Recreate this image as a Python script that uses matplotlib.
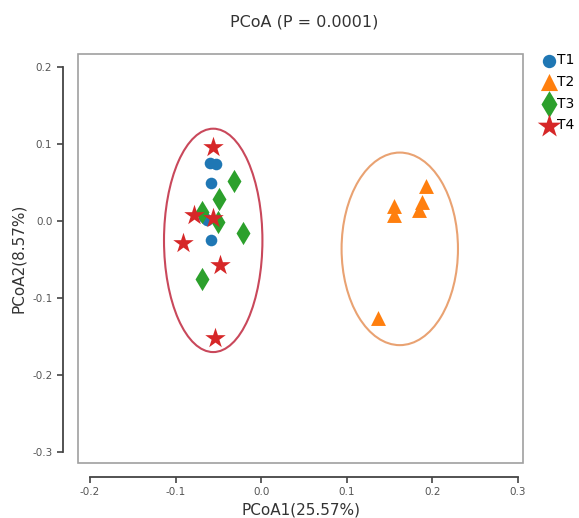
import matplotlib.pyplot as plt
from matplotlib.patches import Ellipse, Rectangle

# PCoA coordinates
t1_x = [-0.060, -0.053, -0.058, -0.067, -0.063, -0.058]
t1_y = [0.076, 0.074, 0.050, 0.006, 0.001, -0.025]
t2_x = [0.193, 0.155, 0.155, 0.188, 0.185, 0.136]
t2_y = [0.045, 0.019, 0.008, 0.025, 0.015, -0.126]
t3_x = [-0.032, -0.049, -0.069, -0.050, -0.021, -0.069]
t3_y = [0.052, 0.029, 0.012, -0.001, -0.015, -0.075]
t4_x = [-0.056, -0.079, -0.056, -0.091, -0.048, -0.054]
t4_y = [0.096, 0.008, 0.004, -0.028, -0.057, -0.152]

groups = ["T1", "T2", "T3", "T4"]
colors = ["#1f77b4", "#ff7f0e", "#2ca02c", "#d62728"]
markers = ["o", "^", "d", "*"]
sizes = [70, 115, 140, 240]

# confidence ellipses: centre x, centre y, width, height
ell_t4 = (-0.056, -0.025, 0.115, 0.290)
ell_t2 = (0.162, -0.036, 0.136, 0.250)

xticks = [-0.2, -0.1, 0.0, 0.1, 0.2, 0.3]
yticks = [-0.3, -0.2, -0.1, 0.0, 0.1, 0.2]

fig = plt.figure(figsize=(5.79, 5.18), dpi=100)
ax = fig.add_axes([0.1347, 0.1062, 0.7686, 0.7896])

ax.add_patch(Ellipse(ell_t4[:2], ell_t4[2], ell_t4[3], fill=False,
                     edgecolor="#c9485b", linewidth=1.5, zorder=1))
ax.add_patch(Ellipse(ell_t2[:2], ell_t2[2], ell_t2[3], fill=False,
                     edgecolor="#e9a272", linewidth=1.5, zorder=1))

xs = [t1_x, t2_x, t3_x, t4_x]
ys = [t1_y, t2_y, t3_y, t4_y]
for i, g in enumerate(groups):
    ax.scatter(xs[i], ys[i], s=sizes[i], c=colors[i], marker=markers[i],
               linewidths=0, label=g, zorder=3)

ax.set_xlim(-0.214, 0.306)
ax.set_ylim(-0.314, 0.217)

# grey frame around the plotting area
ax.add_patch(Rectangle((0, 0), 1, 1, transform=ax.transAxes, fill=False,
                       edgecolor="#a0a0a0", linewidth=1.2, clip_on=False))

for side in ["top", "right"]:
    ax.spines[side].set_visible(False)
ax.spines["left"].set_position(("outward", 11))
ax.spines["bottom"].set_position(("outward", 10))
ax.spines["left"].set_bounds(-0.3, 0.2)
ax.spines["bottom"].set_bounds(-0.2, 0.3)
for side in ["left", "bottom"]:
    ax.spines[side].set_color("#444444")
    ax.spines[side].set_linewidth(1.3)

ax.set_xticks(xticks)
ax.set_yticks(yticks)
ax.set_xticklabels([f"{v:.1f}" for v in xticks])
ax.set_yticklabels([f"{v:.1f}" for v in yticks])
ax.tick_params(labelsize=7.5, colors="#444444", labelcolor="#555555",
               length=4, width=1.2)

ax.set_xlabel("PCoA1(25.57%)", fontsize=11, color="#333333", labelpad=4)
ax.set_ylabel("PCoA2(8.57%)", fontsize=11, color="#333333", labelpad=4)
fig.text(0.525, 0.958, "PCoA (P = 0.0001)", ha="center", va="center",
         fontsize=11.5, color="#333333")

ax.legend(loc="upper left", bbox_to_anchor=(1.02, 1.015), frameon=False,
          fontsize=10, handletextpad=-0.2, labelspacing=0.55,
          borderaxespad=0.0, scatterpoints=1, handlelength=1.6,
          markerscale=1.15)

fig.savefig("out.png", dpi=100)
